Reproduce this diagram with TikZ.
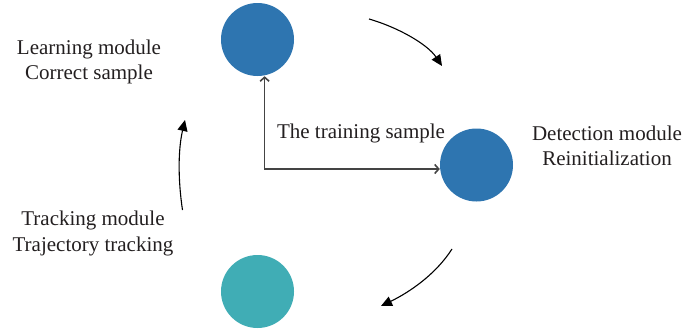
\documentclass[tikz,border=0pt]{standalone}
\usepackage{fontspec}
\setmainfont{Liberation Serif}
\usetikzlibrary{arrows.meta}
\definecolor{modblue}{HTML}{2E75B0}
\definecolor{modteal}{HTML}{40ADB5}
\definecolor{txt}{HTML}{231F20}
\definecolor{lgray}{HTML}{444444}
\begin{document}
\begin{tikzpicture}[x=1pt,y=-1pt,
  module/.style={circle,minimum size=73pt,inner sep=0pt},
  lab/.style={align=center,text=txt,font=\fontsize{21}{25.5}\selectfont,inner sep=0pt},
  cyc/.style={line width=1.1pt,-{Triangle[length=11pt,width=10pt]}},
  lline/.style={draw=lgray,line width=1.6pt,{Straight Barb[length=4pt,width=9pt]}-{Straight Barb[length=4pt,width=9pt]}}]
\useasboundingbox (0,0) rectangle (685,332);
\node[module,fill=modblue] (learn) at (257.5,39.5) {};
\node[module,fill=modblue] (detect) at (476.5,165) {};
\node[module,fill=modteal] (track) at (257.5,291.5) {};
\node[lab] (learnlab) at (89,62) {Learning module\\Correct sample};
\node[lab] (detectlab) at (607,146) {Detection module\\Reinitialization};
\node[lab] (tracklab) at (93,233.5) {Tracking module\\Trajectory tracking};
\node[lab] (trainlab) at (361,133) {The training sample};
\coordinate (corner) at (264.6,169);
\draw[lline] (corner |- learn.south) -- (corner) -- (corner -| detect.west);
\coordinate (a1s) at (369,19); \coordinate (a1e) at (442,66);
\coordinate (a2s) at (452,249); \coordinate (a2e) at (381,306);
\coordinate (a3s) at (182.5,210); \coordinate (a3e) at (185,120);
\draw[cyc] (a1s) .. controls (400,28) and (428,45) .. (a1e);
\draw[cyc] (a2s) .. controls (436,274) and (410,292) .. (a2e);
\draw[cyc] (a3s) .. controls (178,180) and (178,150) .. (a3e);
\end{tikzpicture}
\end{document}
